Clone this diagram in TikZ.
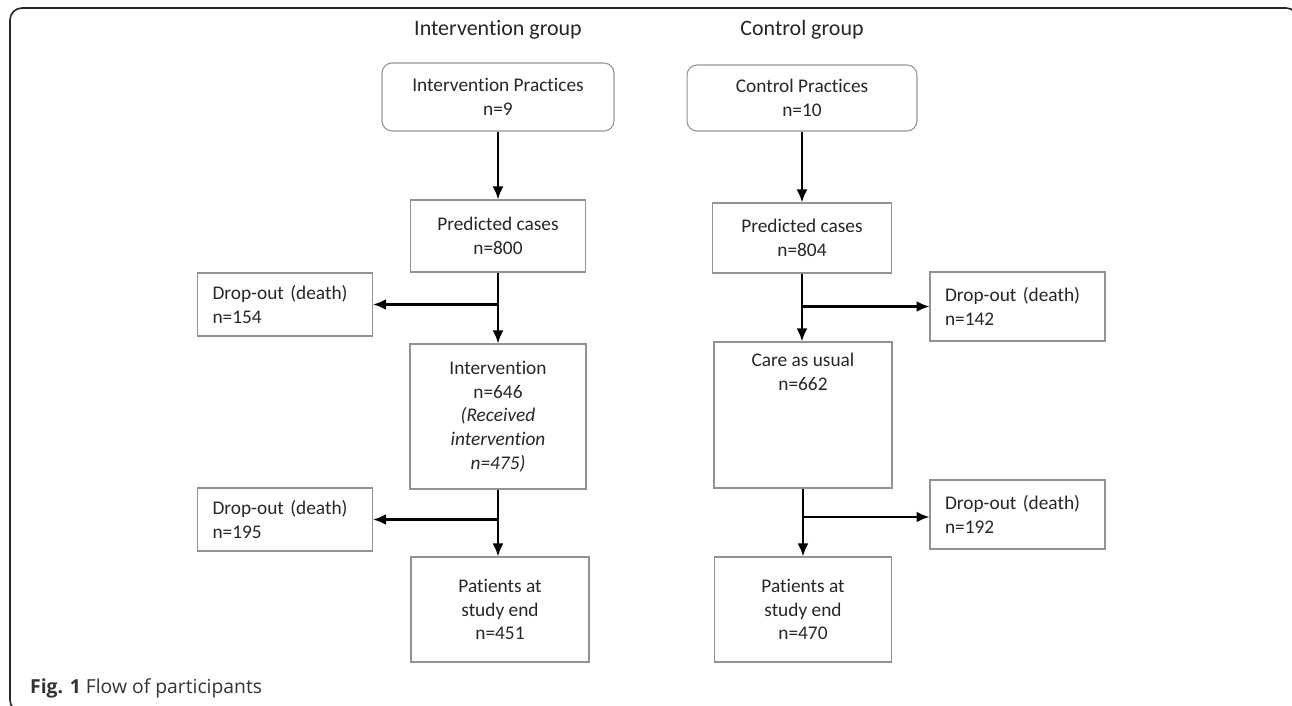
\documentclass[tikz,border=0pt]{standalone}
\usepackage{fontspec}
\setmainfont{Carlito}[Ligatures=NoCommon]
\newfontfamily\capfont{Open Sans}
\usepackage{tikz}
\usetikzlibrary{arrows.meta}
\usetikzlibrary{positioning}

\begin{document}
\begin{tikzpicture}[
x=0.02cm, y=-0.02cm,
Boxes/.style={draw=gray!85, line width=0.6pt, align=center, inner sep=0pt, text=black!85, font=\fontsize{11}{13.5}\selectfont},
RoundBoxes/.style={Boxes, rounded corners=0.2cm},
DropBoxes/.style={Boxes, align=left, inner xsep=0.3cm, text width=2.9cm, minimum height=1.3cm},
Links/.style={-{Latex[length=0.26cm, width=0.22cm]}, line width=1.3pt, black},
Titles/.style={text=black!85, font=\fontsize{12.5}{15}\selectfont}
]
\useasboundingbox (0,0) rectangle (1292,706);

% frame of the figure
\draw[line width=0.9pt, black!85, rounded corners=0.24cm] (10,8) rectangle (1298,712);

% x of the two columns
\pgfmathparse{498}		\let\Xi\pgfmathresult
\pgfmathparse{802}		\let\Xc\pgfmathresult

\node[Titles] (TitleI) at (\Xi,30) {Intervention group};
\node[Titles] (TitleC) at (\Xc,30) {Control group};

% intervention arm
\node[RoundBoxes, minimum width=4.64cm, minimum height=1.36cm] (PracI) at (\Xi,97) {Intervention Practices\\n=9};
\node[Boxes, minimum width=3.5cm, minimum height=1.44cm] (PredI) at (\Xi,236) {Predicted cases\\n=800};
\node[DropBoxes, minimum height=1.26cm] (DropA) at (285,304.5) {Drop-out (death)\\n=154};
\node[Boxes, minimum width=3.52cm, minimum height=2.9cm] (IntI) at (\Xi,416.5) {Intervention\\n=646\\\textit{(Received}\\\textit{intervention}\\\textit{n=475)}};
\node[DropBoxes, minimum height=1.26cm] (DropC) at (285,519.5) {Drop-out (death)\\n=195};
\node[Boxes, minimum width=3.56cm, minimum height=2.1cm] (EndI) at (\Xi+2,609.5) {Patients at\\study end\\n=451};

% control arm
\node[RoundBoxes, minimum width=4.6cm, minimum height=1.32cm] (PracC) at (\Xc,98) {Control Practices\\n=10};
\node[Boxes, minimum width=3.58cm, minimum height=1.4cm] (PredC) at (\Xc,238) {Predicted cases\\n=804};
\node[DropBoxes, minimum height=1.38cm] (DropB) at (1017.5,306.5) {Drop-out (death)\\n=142};
\node[Boxes, minimum width=3.56cm, minimum height=2.92cm] (CareC) at (\Xc+1,415) {};
\node[Boxes, draw=none, anchor=north] (CareT) at ([yshift=-0.22cm]CareC.north) {Care as usual\\n=662};
\node[DropBoxes, minimum height=1.38cm] (DropD) at (1017.5,514.5) {Drop-out (death)\\n=192};
\node[Boxes, minimum width=3.54cm, minimum height=2.1cm] (EndC) at (\Xc+1,609.5) {Patients at\\study end\\n=470};

% arrows
\draw[Links] (PracI.south) -- (PracI.south |- PredI.north);
\draw[Links] (PredI.south) -- (PredI.south |- IntI.north);
\draw[Links] (PredI.south |- DropA.east) -- (DropA.east);
\draw[Links] (IntI.south) -- (IntI.south |- EndI.north);
\draw[Links] (IntI.south |- DropC.east) -- (DropC.east);

\draw[Links] (PracC.south) -- (PracC.south |- PredC.north);
\draw[Links] (PredC.south) -- (PredC.south |- CareC.north);
\draw[Links] (PredC.south |- DropB.west) -- (DropB.west);
\draw[Links] (CareC.south) -- (CareC.south |- EndC.north);
\draw[Links] ([yshift=-0.05cm]CareC.south |- DropD.west) -- ([yshift=-0.05cm]DropD.west);

% caption
\node[anchor=west, font=\capfont\fontsize{11}{13}\selectfont, text=black!80] (Cap) at (24,688) {\textbf{Fig. 1} Flow of participants};

\end{tikzpicture}
\end{document}
